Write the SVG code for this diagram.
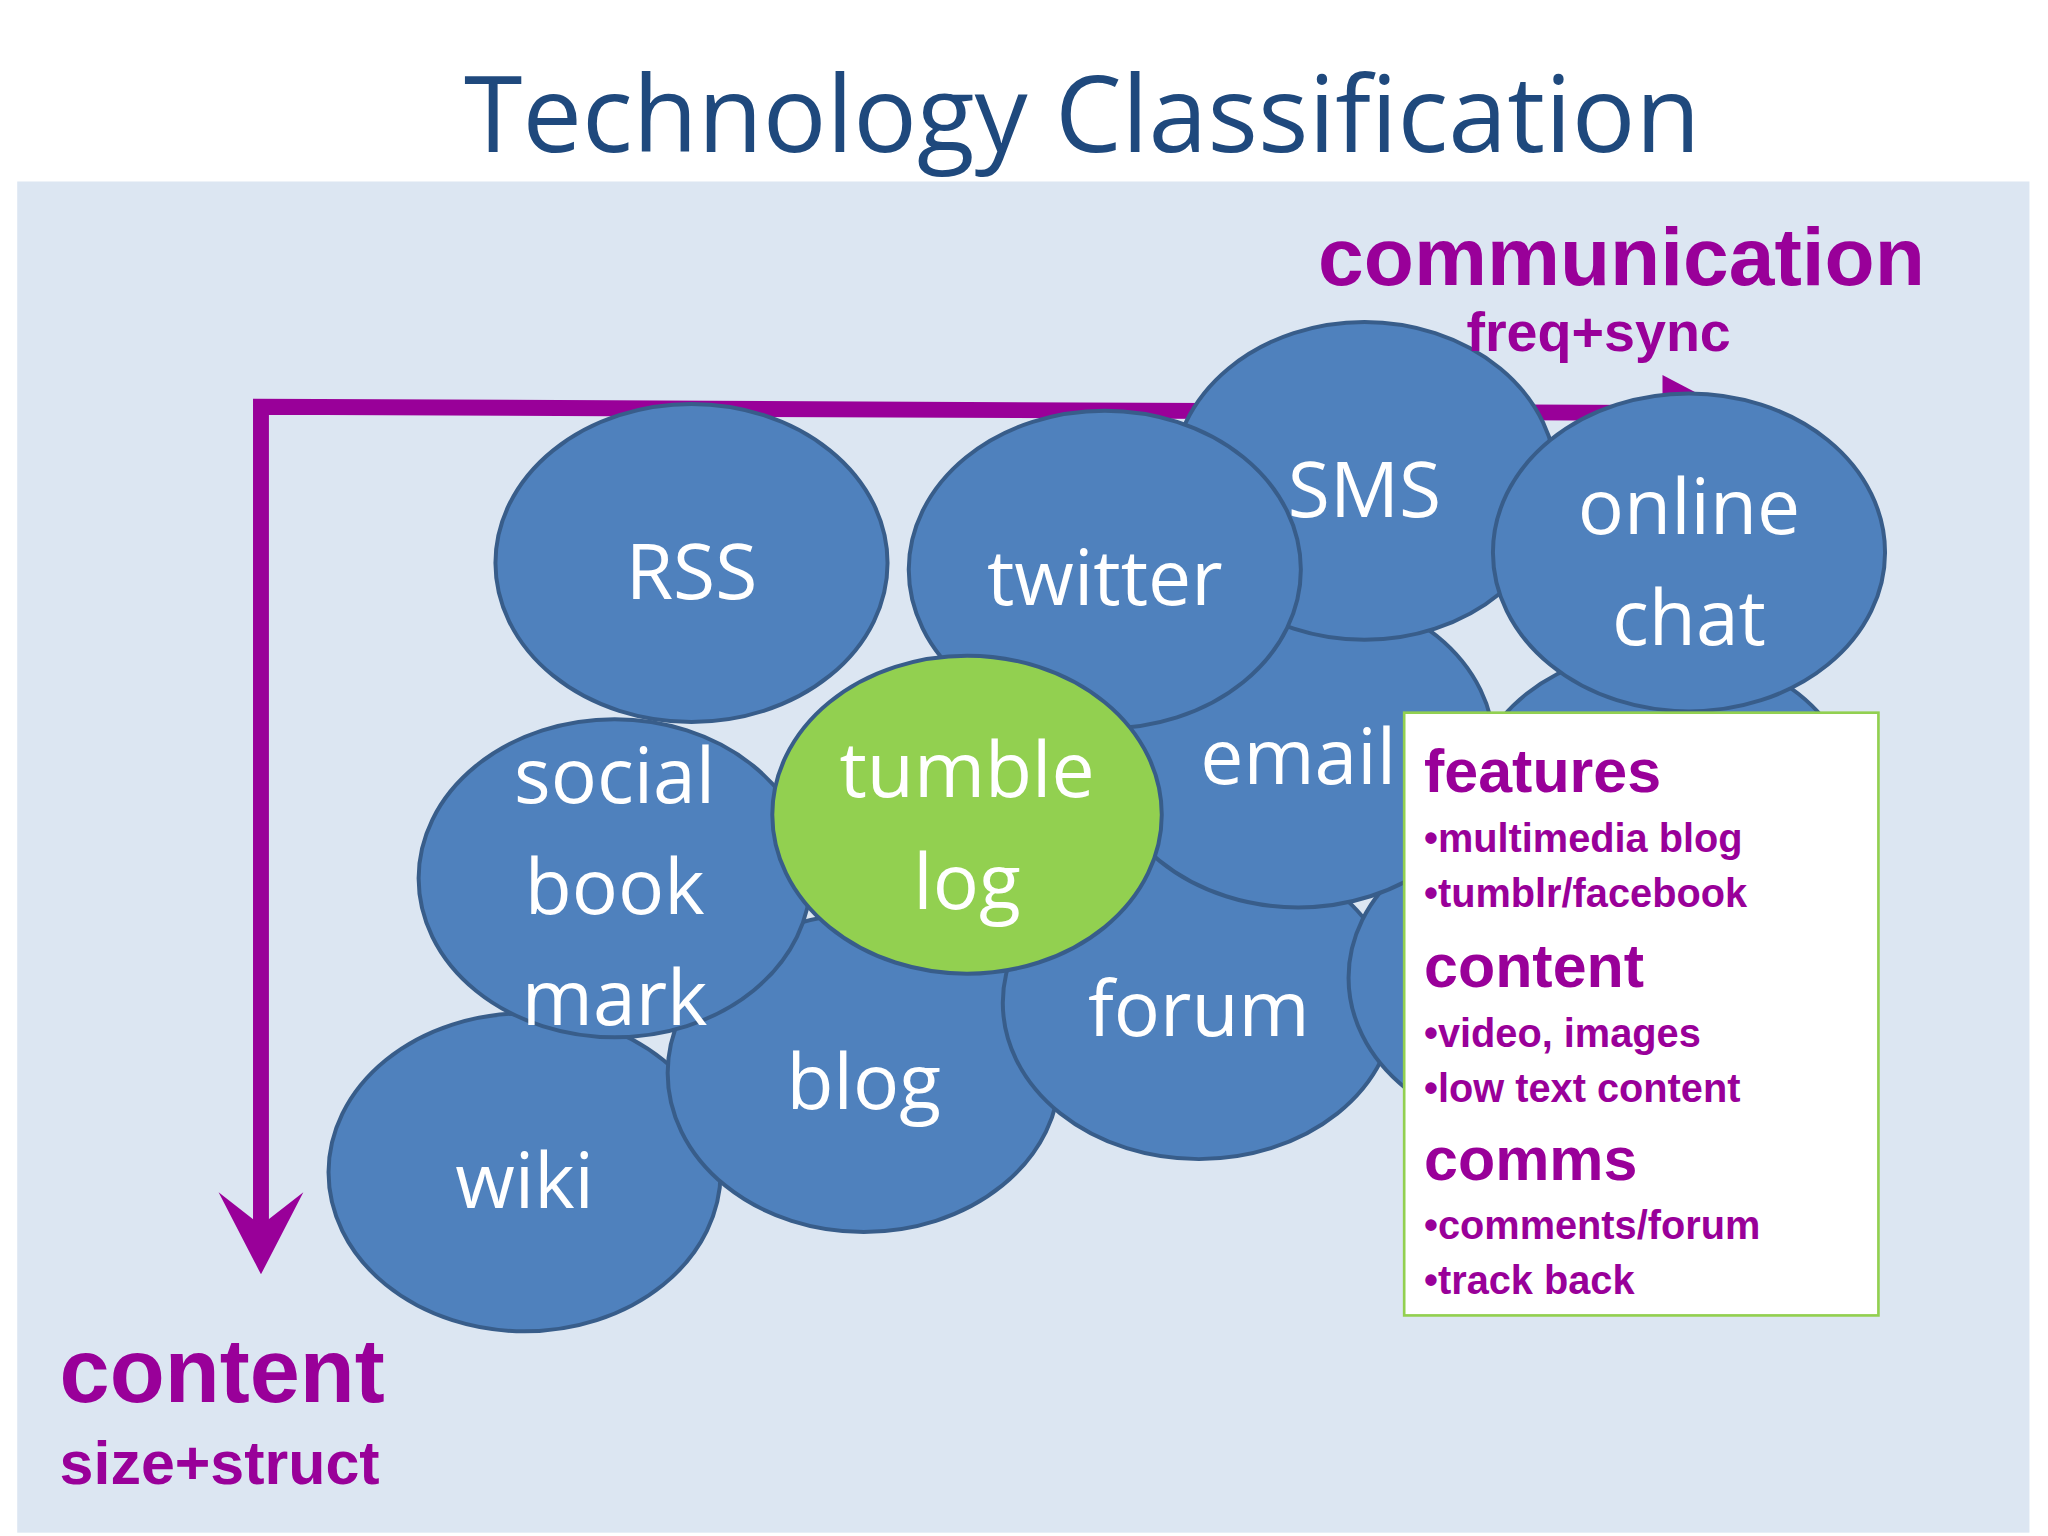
<svg xmlns="http://www.w3.org/2000/svg" width="2048" height="1536" viewBox="0 0 2048 1536">
<style>
.n{fill:#4f81bd;stroke:#385d8a;stroke-width:3}
.g{fill:#92d050;stroke:#385d8a;stroke-width:3}
.t{font-family:"Open Sans","Noto Sans",sans-serif;font-size:58px;fill:#fff;text-anchor:middle}
.p{font-family:"Liberation Sans",Arial,sans-serif;font-weight:bold;fill:#990099}
</style>
<rect width="2048" height="1536" fill="#fff"/>
<g transform="scale(1.3247)">
<rect x="13" y="137" width="1519" height="1020" fill="#dce6f2"/>
<text x="817" y="115" font-family="Open Sans,Noto Sans,sans-serif" font-size="80" fill="#1f497d" text-anchor="middle">Technology Classification</text>
<g id="connectors" fill="none" stroke="#990099" stroke-width="12">
<polyline points="1300,312 197,307 197,935"/>
<polygon points="165,900 197,962 229,900 197,925" fill="#990099" stroke="none"/>
<polygon points="1255,283 1310,312 1255,330" fill="#990099" stroke="none"/>
</g>
<g id="wiki"><ellipse class="n" cx="396" cy="885" rx="148" ry="120"/><text class="t" x="396" y="912">wiki</text></g>
<g id="blog"><ellipse class="n" cx="652" cy="810" rx="148" ry="120"/><text class="t" x="652" y="837">blog</text></g>
<g id="forum"><ellipse class="n" cx="905" cy="757" rx="148" ry="118"/><text class="t" x="905" y="782">forum</text></g>
<g id="hidden1"><ellipse class="n" cx="1165" cy="738" rx="147" ry="118"/></g>
<g id="email"><ellipse class="n" cx="980" cy="565" rx="148" ry="120"/><text class="t" x="980" y="592">email</text></g>
<g id="hidden2"><ellipse class="n" cx="1255" cy="605" rx="145" ry="115"/></g>
<g id="sms"><ellipse class="n" cx="1030" cy="363" rx="145" ry="120"/><text class="t" x="1030" y="390">SMS</text></g>
<g id="chat"><ellipse class="n" cx="1275" cy="417" rx="148" ry="120"/><text class="t" x="1275" y="403">online</text><text class="t" x="1275" y="487">chat</text></g>
<g id="rss"><ellipse class="n" cx="522" cy="425" rx="148" ry="120"/><text class="t" x="522" y="452">RSS</text></g>
<g id="twitter"><ellipse class="n" cx="834" cy="430" rx="148" ry="120"/><text class="t" x="834" y="457">twitter</text></g>
<g id="social"><ellipse class="n" cx="464" cy="663" rx="148" ry="120"/><text class="t" x="464" y="606">social</text><text class="t" x="464" y="690">book</text><text class="t" x="464" y="774">mark</text></g>
<g id="tumble"><ellipse class="g" cx="730" cy="615" rx="147" ry="120"/><text class="t" x="730" y="602">tumble</text><text class="t" x="730" y="686">log</text></g>
<g id="box">
<rect x="1060" y="538" width="358" height="455" fill="#fff" stroke="#92d050" stroke-width="2"/>
<text class="p" x="1075" y="598" font-size="46">features</text>
<text class="p" x="1075" y="643" font-size="30">•multimedia blog</text>
<text class="p" x="1075" y="685" font-size="30">•tumblr/facebook</text>
<text class="p" x="1075" y="745" font-size="46">content</text>
<text class="p" x="1075" y="790" font-size="30">•video, images</text>
<text class="p" x="1075" y="832" font-size="30">•low text content</text>
<text class="p" x="1075" y="891" font-size="46">comms</text>
<text class="p" x="1075" y="935" font-size="30">•comments/forum</text>
<text class="p" x="1075" y="977" font-size="30">•track back</text>
</g>
<text class="p" x="995" y="215" font-size="62">communication</text>
<text class="p" x="1107" y="265" font-size="42">freq+sync</text>
<text class="p" x="45" y="1058" font-size="68">content</text>
<text class="p" x="45" y="1120" font-size="46">size+struct</text>
</g>
</svg>
